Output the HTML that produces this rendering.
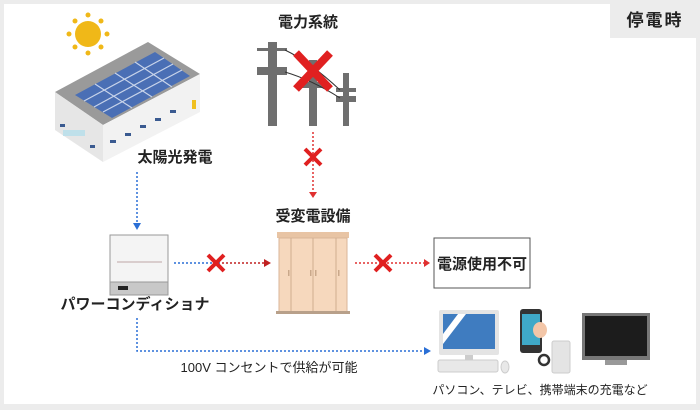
<!DOCTYPE html>
<html><head><meta charset="utf-8"><style>
body{margin:0;background:#fff}
svg{display:block}
text{font-family:"Liberation Sans","Noto Sans CJK JP",sans-serif}
</style></head><body>
<svg width="700" height="410" viewBox="0 0 700 410" xmlns="http://www.w3.org/2000/svg">
<rect x="0" y="0" width="700" height="410" fill="#ececec"/>
<rect x="4" y="4" width="692" height="400" fill="#fff"/>
<rect x="610" y="0" width="90" height="38" fill="#ececec"/>
<text x="655" y="26" font-size="17" font-weight="bold" text-anchor="middle" fill="#222" letter-spacing="2">停電時</text>
<circle cx="88" cy="34" r="13" fill="#f0b818"/>
<g fill="#f0b818">
<circle cx="88" cy="15" r="2.5"/><circle cx="88" cy="53" r="2.5"/><circle cx="69" cy="34" r="2.5"/><circle cx="107" cy="34" r="2.5"/>
<circle cx="75" cy="21" r="2.5"/><circle cx="101" cy="21" r="2.5"/><circle cx="75" cy="47" r="2.5"/><circle cx="101" cy="47" r="2.5"/></g>
<polygon points="55,92 148,42 200,74 103,125" fill="#9a9a9a"/>
<polygon points="55,92 103,125 103,162 55,130" fill="#e6e6e6"/>
<polygon points="103,125 200,74 200,112 103,162" fill="#f2f2f2"/>
<polygon points="75,95 155,52 190,76 112,118" fill="#4a6fb5"/>
<g stroke="#c8d4ea" stroke-width="1.2">
<line x1="84" y1="101" x2="164" y2="58"/><line x1="94" y1="107" x2="173" y2="64"/><line x1="103" y1="112" x2="182" y2="70"/>
<line x1="95" y1="84" x2="132" y2="108"/><line x1="115" y1="73" x2="152" y2="97"/><line x1="135" y1="62" x2="172" y2="87"/></g>
<g fill="#3a5a90"><rect x="110" y="140" width="6" height="3"/><rect x="125" y="133" width="6" height="3"/><rect x="140" y="125" width="6" height="3"/><rect x="155" y="118" width="6" height="3"/><rect x="170" y="110" width="6" height="3"/><rect x="60" y="124" width="5" height="3"/><rect x="90" y="145" width="5" height="3"/></g>
<rect x="63" y="130" width="22" height="6" fill="#bfe0ea"/>
<rect x="192" y="100" width="4" height="9" fill="#f0c020"/>
<text x="175" y="162" font-size="15" font-weight="bold" text-anchor="middle" fill="#222">太陽光発電</text>
<text x="308" y="27" font-size="15" font-weight="bold" text-anchor="middle" fill="#222">電力系統</text>
<g fill="#6f6f6f">
<rect x="268" y="42" width="9" height="84"/><rect x="257" y="48" width="30" height="3"/><rect x="257" y="67" width="30" height="8"/>
<rect x="309" y="60" width="8" height="66"/><rect x="300" y="82" width="26" height="6"/>
<rect x="343" y="73" width="6" height="53"/><rect x="336" y="88" width="20" height="4"/><rect x="336" y="96" width="20" height="6"/></g>
<g stroke="#333" stroke-width="1" fill="none"><path d="M285 50 Q310 62 340 90"/><path d="M285 72 Q312 80 340 98"/></g>
<g stroke="#e02020" stroke-width="8"><line x1="296" y1="53" x2="330" y2="89"/><line x1="330" y1="53" x2="296" y2="89"/></g>
<line x1="313" y1="132" x2="313" y2="192" stroke="#e03030" stroke-width="1.5" stroke-dasharray="2,2"/>
<polygon points="309,192 317,192 313,198" fill="#e03030"/>
<g stroke="#e02020" stroke-width="4"><line x1="305" y1="149" x2="321" y2="165"/><line x1="321" y1="149" x2="305" y2="165"/></g>
<text x="313" y="221" font-size="15" font-weight="bold" text-anchor="middle" fill="#222">受変電設備</text>
<rect x="277" y="232" width="72" height="6" fill="#e8c4a4"/>
<rect x="279" y="238" width="68" height="74" fill="#f6d8bd" stroke="#d9b699"/>
<g stroke="#d0ae90"><line x1="291" y1="238" x2="291" y2="312"/><line x1="313" y1="238" x2="313" y2="312"/><line x1="336" y1="238" x2="336" y2="312"/></g>
<g fill="#c9a88a"><rect x="288" y="270" width="1.5" height="6"/><rect x="310" y="270" width="1.5" height="6"/><rect x="315" y="270" width="1.5" height="6"/><rect x="338" y="270" width="1.5" height="6"/></g>
<rect x="276" y="311" width="74" height="3" fill="#b8a08a"/>
<line x1="137" y1="172" x2="137" y2="223" stroke="#2a6fd6" stroke-width="1.5" stroke-dasharray="2,2"/>
<polygon points="133,223 141,223 137,230" fill="#2a6fd6"/>
<rect x="110" y="235" width="58" height="60" fill="#f4f4f4" stroke="#999"/>
<line x1="117" y1="262" x2="162" y2="262" stroke="#d0c0c0" stroke-width="1.5"/>
<rect x="110" y="282" width="58" height="13" fill="#c8c8c8" stroke="#999"/>
<rect x="118" y="286" width="10" height="4" fill="#222"/>
<text x="135" y="309" font-size="15" font-weight="bold" text-anchor="middle" fill="#222">パワーコンディショナ</text>
<line x1="174" y1="263" x2="222" y2="263" stroke="#2a6fd6" stroke-width="1.5" stroke-dasharray="2,2"/>
<line x1="222" y1="263" x2="264" y2="263" stroke="#c02020" stroke-width="1.5" stroke-dasharray="2,2"/>
<polygon points="264,259 264,267 271,263" fill="#c02020"/>
<g stroke="#e02020" stroke-width="4"><line x1="208" y1="255" x2="224" y2="271"/><line x1="224" y1="255" x2="208" y2="271"/></g>
<line x1="355" y1="263" x2="424" y2="263" stroke="#e03030" stroke-width="1.5" stroke-dasharray="2,2"/>
<polygon points="424,259 424,267 430,263" fill="#e03030"/>
<g stroke="#e02020" stroke-width="4"><line x1="375" y1="255" x2="391" y2="271"/><line x1="391" y1="255" x2="375" y2="271"/></g>
<rect x="434" y="238" width="96" height="50" fill="#fff" stroke="#555"/>
<text x="482" y="269" font-size="15" font-weight="bold" text-anchor="middle" fill="#222">電源使用不可</text>
<path d="M137 318 V351 H424" fill="none" stroke="#2a6fd6" stroke-width="1.5" stroke-dasharray="2,2"/>
<polygon points="424,347 424,355 431,351" fill="#2a6fd6"/>
<text x="269" y="372" font-size="13" text-anchor="middle" fill="#222">100V コンセントで供給が可能</text>
<rect x="439" y="310" width="60" height="45" rx="2" fill="#e4e4e4"/>
<rect x="443" y="314" width="52" height="35" fill="#3f7cc0"/>
<polygon points="443,334 458,314 466,314 443,344" fill="#fff"/>
<rect x="465" y="355" width="8" height="5" fill="#ccc"/>
<rect x="438" y="360" width="60" height="12" rx="2" fill="#e8e8e8" stroke="#ccc"/>
<ellipse cx="505" cy="367" rx="4" ry="6" fill="#e8e8e8" stroke="#ccc"/>
<rect x="520" y="309" width="22" height="44" rx="3" fill="#333"/>
<rect x="522" y="314" width="18" height="31" fill="#3fa9c8"/>
<ellipse cx="540" cy="330" rx="7" ry="8" fill="#f3c6a8"/>
<rect x="552" y="341" width="18" height="32" rx="2" fill="#e4e4e4" stroke="#ccc"/>
<circle cx="544" cy="360" r="5" fill="none" stroke="#333" stroke-width="2.5"/>
<rect x="582" y="313" width="68" height="47" fill="#777"/>
<rect x="585" y="316" width="62" height="40" fill="#1c1c1c"/>
<rect x="605" y="360" width="22" height="5" fill="#999"/>
<text x="540" y="394" font-size="12" text-anchor="middle" fill="#222">パソコン、テレビ、携帯端末の充電など</text>
</svg>
</body></html>
